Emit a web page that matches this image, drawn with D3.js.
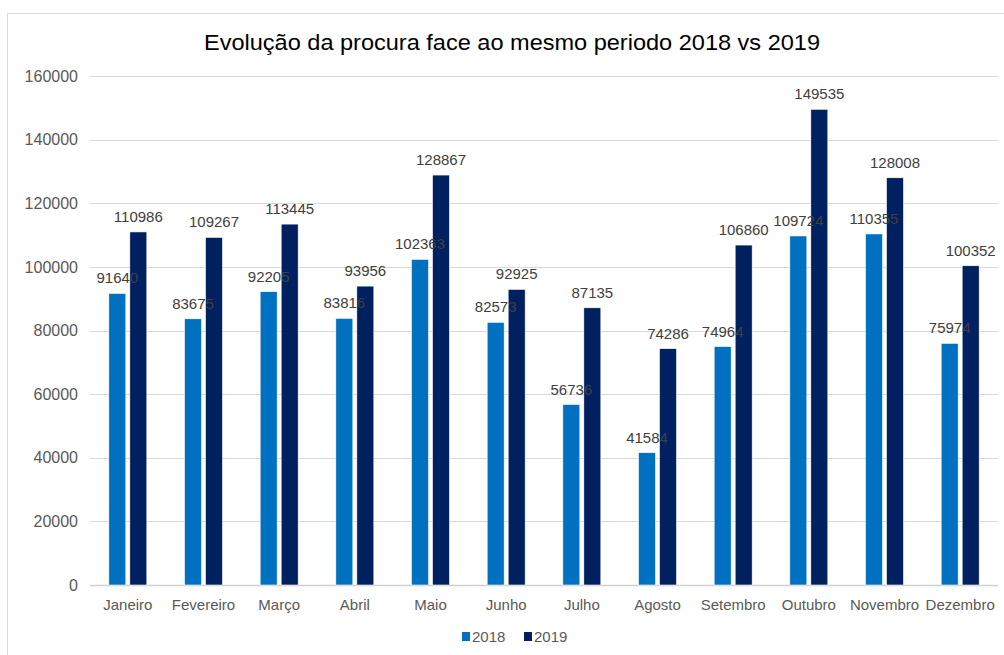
<!DOCTYPE html>
<html lang="pt">
<head>
<meta charset="UTF-8">
<title>Evolução da procura</title>
<script src="https://cdn.jsdelivr.net/npm/d3@7"></script>
<style>
	body{margin:0;background:#fff;}
	svg{display:block;font-family:"Liberation Sans",Arial,sans-serif;}
</style>
</head>
<body>
<svg id="svg" width="1004" height="655"></svg>
<script>
	var months = ["Janeiro","Fevereiro","Março","Abril","Maio","Junho","Julho","Agosto","Setembro","Outubro","Novembro","Dezembro"];
	var v2018 = [91640,83675,92205,83816,102363,82573,56736,41584,74964,109724,110355,75974];
	var v2019 = [110986,109267,113445,93956,128867,92925,87135,74286,106860,149535,128008,100352];
	var seriesNames = ["2018","2019"];
	var colors = ["#0070C0","#002060"];
	var yTicks = [0,20000,40000,60000,80000,100000,120000,140000,160000];

	var svg = d3.select("svg");

	// chart frame
	svg.append("rect")
		.attr("x",7.5).attr("y",13.5)
		.attr("width",1010).attr("height",660)
		.attr("fill","none").attr("stroke","#d9d9d9");

	svg.append("text")
		.attr("x",512).attr("y",50)
		.attr("text-anchor","middle")
		.attr("font-size",22)
		.attr("textLength",616)
		.attr("lengthAdjust","spacingAndGlyphs")
		.attr("fill","#000")
		.text("Evolução da procura face ao mesmo periodo 2018 vs 2019");

	var x = d3.scaleBand().domain(months).range([90,998]);
	var y = d3.scaleLinear().domain([0,160000]).range([585,76]);

	// grid
	svg.append("g").selectAll("line")
		.data(yTicks).enter().append("line")
		.attr("x1",90).attr("x2",998)
		.attr("y1",d=>Math.round(y(d))+0.5).attr("y2",d=>Math.round(y(d))+0.5)
		.attr("stroke",d=>d===0?"#d0d0d0":"#d9d9d9")
		.attr("stroke-width",d=>d===0?1.5:1);

	var yAxis = d3.axisLeft(y).tickValues(yTicks).tickFormat(d3.format("d")).tickSize(0).tickPadding(12);
	var ya = svg.append("g").attr("transform","translate(90,0)").call(yAxis);
	ya.select(".domain").remove();
	ya.selectAll("text").attr("font-size",16).attr("fill","#595959")
		.attr("font-family","Liberation Sans, Arial, sans-serif");

	var xAxis = d3.axisBottom(x).tickSize(0).tickPadding(14);
	var xa = svg.append("g").attr("transform","translate(0,585)").call(xAxis);
	xa.select(".domain").remove();
	xa.selectAll("text").attr("font-size",15).attr("fill","#595959")
		.attr("font-family","Liberation Sans, Arial, sans-serif");

	var barW = 17, gap = 2;
	var data = [v2018,v2019];
	data.forEach((vals,s)=>{
		var off = s===0 ? -gap-barW : gap;
		var g = svg.append("g");
		g.selectAll("rect").data(vals).enter().append("rect")
			.attr("x",(d,i)=>x(months[i])+x.bandwidth()/2+off)
			.attr("y",d=>y(d))
			.attr("width",barW)
			.attr("height",d=>y(0)-y(d))
			.attr("fill",colors[s])
			.attr("stroke","#fff").attr("stroke-width",0.6);
	});
	data.forEach((vals,s)=>{
		var off = s===0 ? -gap-barW : gap;
		svg.append("g").selectAll("text").data(vals).enter().append("text")
			.attr("x",(d,i)=>x(months[i])+x.bandwidth()/2+off+barW/2)
			.attr("y",d=>y(d)-10)
			.attr("text-anchor","middle")
			.attr("font-size",15)
			.attr("fill","#404040")
			.text(d=>d);
	});

	// legend
	var leg = svg.append("g").attr("transform","translate(462,632)");
	seriesNames.forEach((n,i)=>{
		var gx = i*62;
		leg.append("rect").attr("x",gx).attr("y",0).attr("width",8).attr("height",9).attr("fill",colors[i]);
		leg.append("text").attr("x",gx+10).attr("y",10).attr("font-size",15).attr("fill","#595959").text(n);
	});
</script>
</body>
</html>
